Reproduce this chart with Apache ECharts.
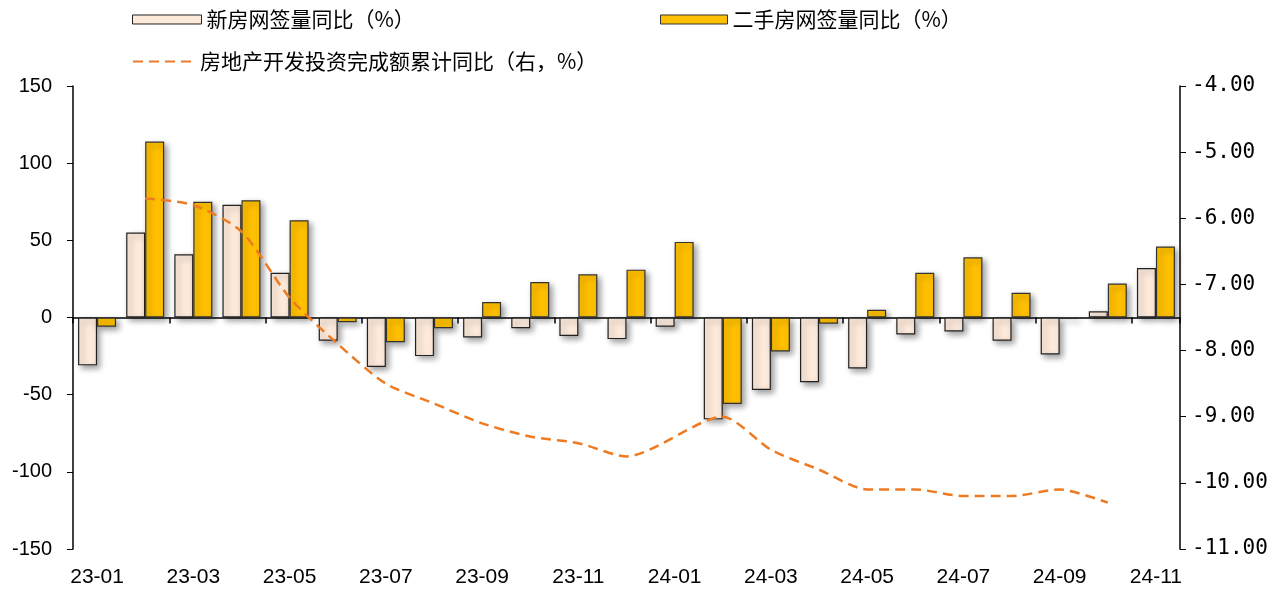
<!DOCTYPE html>
<html><head><meta charset="utf-8">
<script src="https://cdn.jsdelivr.net/npm/echarts@6/dist/echarts.min.js"></script>
<style>html,body{margin:0;padding:0;background:#fff}#c{width:1280px;height:592px}</style>
</head><body><div id="c"></div>
<script>
const categories = ['23-01','23-02','23-03','23-04','23-05','23-06','23-07','23-08','23-09','23-10','23-11','23-12',
  '24-01','24-02','24-03','24-04','24-05','24-06','24-07','24-08','24-09','24-10','24-11'];
const newHouse = [-31,55,41,73,29,-15,-32,-25,-13,-7,-12,-14,-6,-66,-47,-42,-33,-11,-9,-15,-24,4,32];
const secondHand = [-6,114,75,76,63,-3,-16,-7,10,23,28,31,49,-56,-22,-4,5,29,39,16,-1,22,46];
const investment = [null,-5.7,-5.8,-6.2,-7.2,-7.9,-8.5,-8.8,-9.1,-9.3,-9.4,-9.6,null,-9.0,-9.5,-9.8,-10.1,-10.1,-10.2,-10.2,-10.1,-10.3,null];
const leftTicks = {min:-150,max:150,interval:50};
const rightTicks = {min:-11,max:-4,interval:1};
const names = ['新房网签量同比（%）','二手房网签量同比（%）','房地产开发投资完成额累计同比（右，%）'];

const cjk = '"Noto Sans CJK SC", sans-serif';
const shadow = {shadowColor:'rgba(0,0,0,0.4)',shadowBlur:6,shadowOffsetX:3,shadowOffsetY:3};
const chart = echarts.init(document.getElementById('c'));
const legendText = {fontFamily:cjk,fontSize:21,color:'#000'};
chart.setOption({
  animation:false,
  grid:{left:73,right:100,top:86,bottom:43},
  legend:[
    {data:[names[0]],left:127,top:4,icon:'rect',itemWidth:69,itemHeight:9,textStyle:legendText,
     itemStyle:{borderColor:'#222',borderWidth:1,shadowBlur:0,shadowOffsetX:0,shadowOffsetY:0}},
    {data:[names[1]],left:655,top:4,icon:'rect',itemWidth:67,itemHeight:9,textStyle:legendText,
     itemStyle:{borderColor:'#333',borderWidth:1,shadowBlur:0,shadowOffsetX:0,shadowOffsetY:0}},
    {data:[names[2]],left:127,top:46,itemWidth:62,itemHeight:10,textStyle:legendText,
     itemStyle:{opacity:0}}
  ],
  xAxis:{type:'category',data:categories,boundaryGap:true,
    axisLine:{onZero:true,lineStyle:{color:'#000',width:1.5}},
    axisTick:{show:true,interval:1,length:6,lineStyle:{color:'#000',width:1.5}},
    axisLabel:{interval:1,fontSize:21,color:'#000',fontFamily:'"Liberation Sans", Arial',margin:18},
    position:'bottom'},
  yAxis:[
    {type:'value',min:leftTicks.min,max:leftTicks.max,interval:leftTicks.interval,
     splitLine:{show:false},
     axisLine:{show:true,lineStyle:{color:'#000',width:1.5}},
     axisTick:{show:true,length:6,lineStyle:{color:'#000'}},
     axisLabel:{fontSize:20,color:'#000',fontFamily:'"Liberation Sans", Arial',margin:21}},
    {type:'value',min:rightTicks.min,max:rightTicks.max,interval:rightTicks.interval,position:'right',
     splitLine:{show:false},
     axisLine:{show:true,lineStyle:{color:'#000',width:1.5}},
     axisTick:{show:true,length:6,lineStyle:{color:'#000'}},
     axisLabel:{fontSize:21,color:'#000',fontFamily:'"DejaVu Sans Mono", monospace',margin:12,
       formatter:v=>v.toFixed(2)}}
  ],
  series:[
    {name:names[0],type:'bar',data:newHouse,barWidth:19,barGap:'0%',
     itemStyle:Object.assign({color:'#FDEADB',borderColor:'#222',borderWidth:1.2},shadow)},
    {name:names[1],type:'bar',data:secondHand,barWidth:19,barGap:'0%',
     itemStyle:Object.assign({color:'#FFC000',borderColor:'#333',borderWidth:1.2},shadow)},
    {name:names[2],type:'line',yAxisIndex:1,data:investment,connectNulls:true,smooth:0.25,
     symbol:'none',lineStyle:{color:'#EE7B22',width:2.5,type:[10,6]},itemStyle:{color:'#EE7B22'}}
  ]
});
</script></body></html>
